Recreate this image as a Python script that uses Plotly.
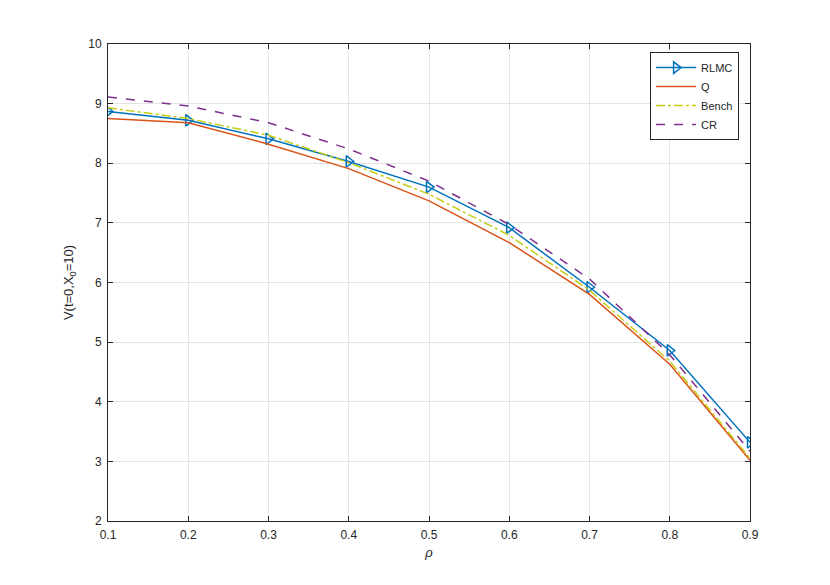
import plotly.graph_objects as go

rho = [0.1, 0.2, 0.3, 0.4, 0.5, 0.6, 0.7, 0.8, 0.9]
rlmc = [8.87, 8.72, 8.41, 8.03, 7.60, 6.92, 5.92, 4.86, 3.32]
q = [8.75, 8.68, 8.32, 7.91, 7.37, 6.67, 5.80, 4.63, 3.02]
bench = [8.93, 8.75, 8.47, 8.01, 7.48, 6.79, 5.87, 4.68, 3.05]
cr = [9.11, 8.96, 8.68, 8.24, 7.70, 6.97, 6.06, 4.79, 3.17]

fig = go.Figure()
fig.add_trace(go.Scatter(x=rho, y=rlmc, name='RLMC', mode='lines+markers',
                         line=dict(color='#0072BD', width=1.5),
                         marker=dict(symbol='triangle-right-open', size=10,
                                     color='#0072BD', line=dict(width=1.5))))
fig.add_trace(go.Scatter(x=rho, y=q, name='Q', mode='lines',
                         line=dict(color='#D95319', width=1.5)))
fig.add_trace(go.Scatter(x=rho, y=bench, name='Bench', mode='lines',
                         line=dict(color='#C4CC12', width=1.5, dash='dashdot')))
fig.add_trace(go.Scatter(x=rho, y=cr, name='CR', mode='lines',
                         line=dict(color='#7E2F8E', width=1.5, dash='dash')))

axis_style = dict(showline=True, linecolor='#262626', linewidth=1, mirror='ticks',
                  ticks='inside', ticklen=5, tickcolor='#262626',
                  showgrid=True, gridcolor='#e3e3e3', gridwidth=1, zeroline=False,
                  tickfont=dict(size=12, color='#262626'), ticklabelstandoff=3)

fig.update_xaxes(range=[0.1, 0.9], tickvals=rho, ticktext=[str(v) for v in rho],
                 title=dict(text='<i>ρ</i>', font=dict(size=13, color='#262626'), standoff=6),
                 **axis_style)
fig.update_yaxes(range=[2, 10], dtick=1,
                 title=dict(text='V(t=0,X<sub>0</sub>=10)', font=dict(size=13, color='#262626'),
                            standoff=11),
                 **axis_style)

# page body has an 8px margin, so the plot box is shifted back by that much
fig.update_layout(
    width=830, height=585,
    margin=dict(l=100, r=88, t=36, b=72),
    paper_bgcolor='white', plot_bgcolor='white',
    font=dict(family='Liberation Sans, Arial, sans-serif', color='#262626'),
    legend=dict(x=0.983, y=0.983, xanchor='right', yanchor='top',
                bgcolor='white', bordercolor='#262626', borderwidth=1,
                font=dict(size=11), tracegroupgap=0, itemwidth=40),
)

fig.write_html("out.html")
